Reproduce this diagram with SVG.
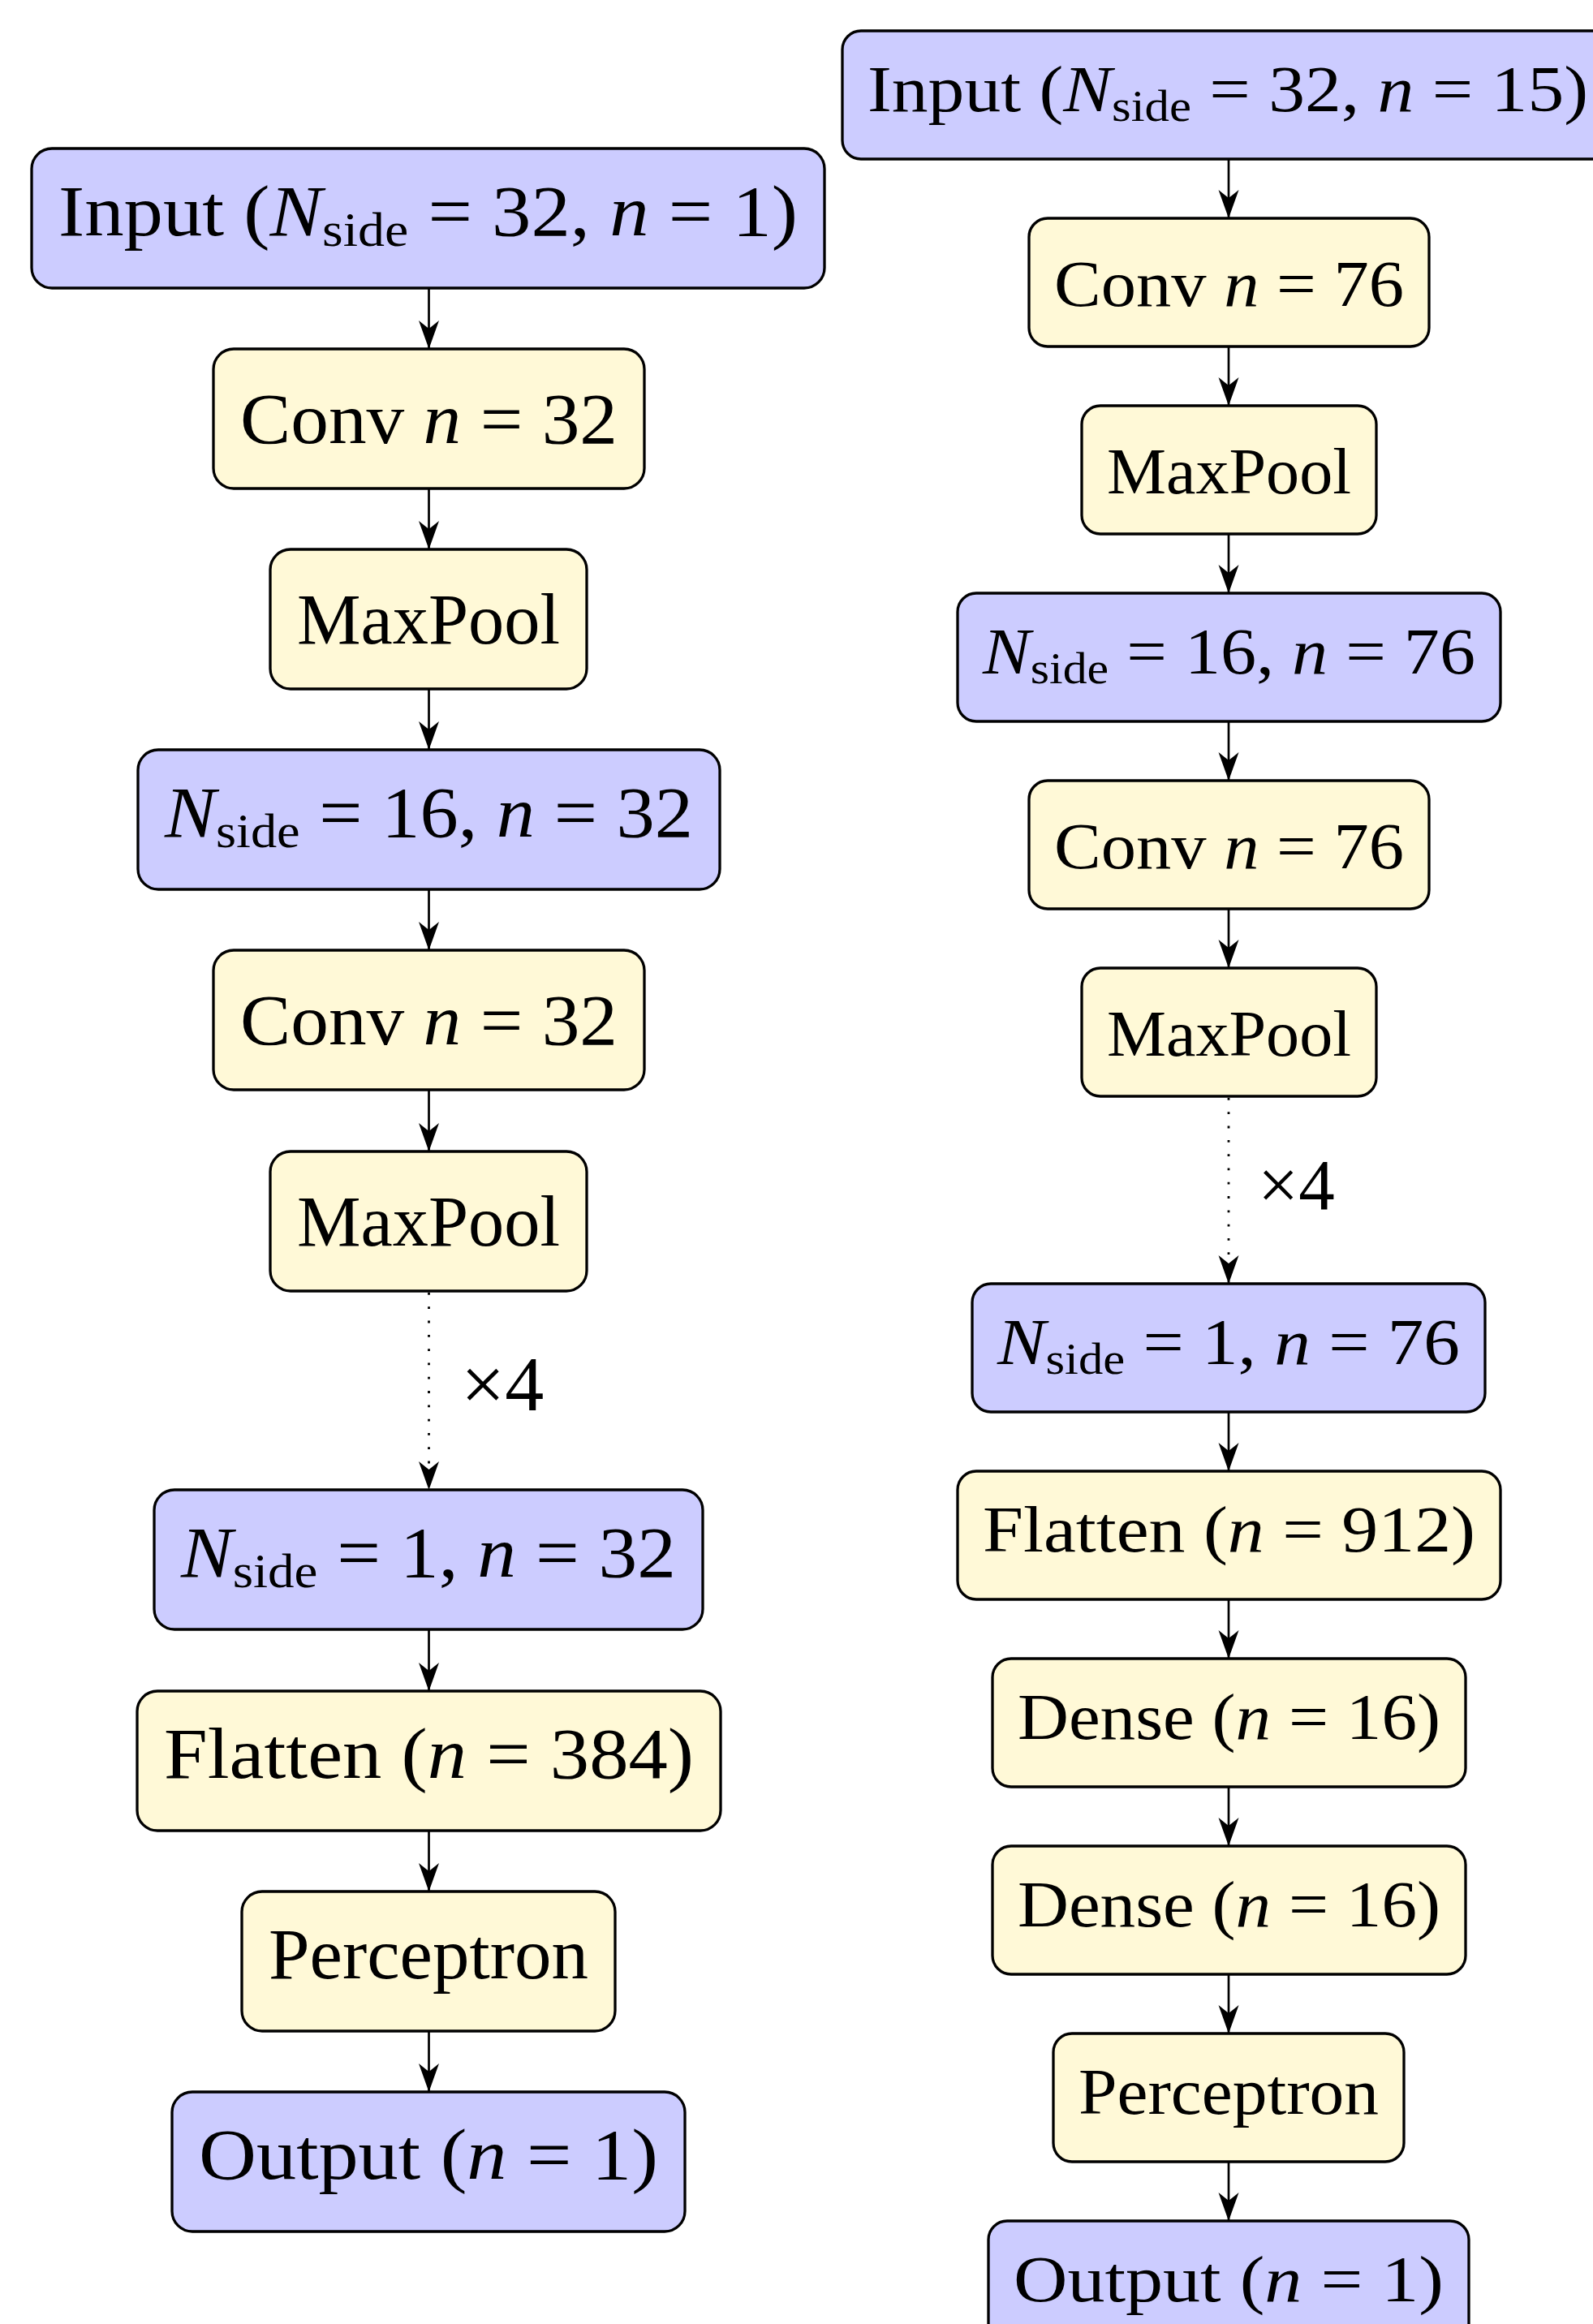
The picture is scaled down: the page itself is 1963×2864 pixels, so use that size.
<svg xmlns="http://www.w3.org/2000/svg" width="1963" height="2864" viewBox="0 0 1963 2864">
<style>
.b{fill:#CCCCFF;stroke:#000;stroke-width:3.3}
.y{fill:#FFF9D7;stroke:#000;stroke-width:3.3}
text{font-family:"Liberation Serif","Times New Roman",serif;fill:#000}
.L{font-size:88px}
.R{font-size:81px}
.i{font-style:italic}
.sL{font-size:60px}
.sR{font-size:55px}
.e{stroke:#000;stroke-width:2.7;fill:none}
.d{stroke:#000;stroke-width:2.8;fill:none;stroke-dasharray:2.8 14.5}
</style>
<defs>
<marker id="ah" markerUnits="userSpaceOnUse" markerWidth="40" markerHeight="30" viewBox="-30 -12 32 24" refX="0" refY="0" orient="auto">
<path d="M0,0 L-28,-10 L-20,0 L-28,10 Z" fill="#000"/>
</marker>
</defs>
<rect width="1963" height="2864" fill="#fff"/>
<g id="connectors">
<line class="e" x1="528.5" y1="355" x2="528.5" y2="430" marker-end="url(#ah)"/>
<line class="e" x1="528.5" y1="602" x2="528.5" y2="677" marker-end="url(#ah)"/>
<line class="e" x1="528.5" y1="849" x2="528.5" y2="924" marker-end="url(#ah)"/>
<line class="e" x1="528.5" y1="1096" x2="528.5" y2="1171" marker-end="url(#ah)"/>
<line class="e" x1="528.5" y1="1343" x2="528.5" y2="1419" marker-end="url(#ah)"/>
<line class="d" x1="528.5" y1="1593" x2="528.5" y2="1836" marker-end="url(#ah)"/>
<line class="e" x1="528.5" y1="2008" x2="528.5" y2="2084" marker-end="url(#ah)"/>
<line class="e" x1="528.5" y1="2256" x2="528.5" y2="2331" marker-end="url(#ah)"/>
<line class="e" x1="528.5" y1="2503" x2="528.5" y2="2578" marker-end="url(#ah)"/>
<line class="e" x1="1514" y1="196" x2="1514" y2="269" marker-end="url(#ah)"/>
<line class="e" x1="1514" y1="427" x2="1514" y2="500" marker-end="url(#ah)"/>
<line class="e" x1="1514" y1="658" x2="1514" y2="731" marker-end="url(#ah)"/>
<line class="e" x1="1514" y1="889" x2="1514" y2="962" marker-end="url(#ah)"/>
<line class="e" x1="1514" y1="1120" x2="1514" y2="1193" marker-end="url(#ah)"/>
<line class="d" x1="1514" y1="1353" x2="1514" y2="1582" marker-end="url(#ah)"/>
<line class="e" x1="1514" y1="1740" x2="1514" y2="1813" marker-end="url(#ah)"/>
<line class="e" x1="1514" y1="1971" x2="1514" y2="2044" marker-end="url(#ah)"/>
<line class="e" x1="1514" y1="2202" x2="1514" y2="2275" marker-end="url(#ah)"/>
<line class="e" x1="1514" y1="2433" x2="1514" y2="2506" marker-end="url(#ah)"/>
<line class="e" x1="1514" y1="2664" x2="1514" y2="2737" marker-end="url(#ah)"/>
<text x="568" y="1738" font-size="96">×4</text>
<text x="1550" y="1490" font-size="89">×4</text>
</g>
<g id="L0"><rect class="b" x="39" y="183" width="977" height="172" rx="25"/>
<text class="L" x="72" y="290" textLength="911" lengthAdjust="spacingAndGlyphs">Input (<tspan class="i">N</tspan><tspan class="sL" dy="13">side</tspan><tspan dy="-13"> = 32, </tspan><tspan class="i">n</tspan> = 1)</text></g>
<g id="L1"><rect class="y" x="263" y="430" width="531" height="172" rx="25"/>
<text class="L" x="296" y="546" textLength="465" lengthAdjust="spacingAndGlyphs">Conv <tspan class="i">n</tspan> = 32</text></g>
<g id="L2"><rect class="y" x="333" y="677" width="390" height="172" rx="25"/>
<text class="L" x="366" y="793" textLength="324" lengthAdjust="spacingAndGlyphs">MaxPool</text></g>
<g id="L3"><rect class="b" x="170" y="924" width="717" height="172" rx="25"/>
<text class="L" x="203" y="1031" textLength="651" lengthAdjust="spacingAndGlyphs"><tspan class="i">N</tspan><tspan class="sL" dy="13">side</tspan><tspan dy="-13"> = 16, </tspan><tspan class="i">n</tspan> = 32</text></g>
<g id="L4"><rect class="y" x="263" y="1171" width="531" height="172" rx="25"/>
<text class="L" x="296" y="1287" textLength="465" lengthAdjust="spacingAndGlyphs">Conv <tspan class="i">n</tspan> = 32</text></g>
<g id="L5"><rect class="y" x="333" y="1419" width="390" height="172" rx="25"/>
<text class="L" x="366" y="1535" textLength="324" lengthAdjust="spacingAndGlyphs">MaxPool</text></g>
<g id="L6"><rect class="b" x="190" y="1836" width="676" height="172" rx="25"/>
<text class="L" x="223" y="1943" textLength="610" lengthAdjust="spacingAndGlyphs"><tspan class="i">N</tspan><tspan class="sL" dy="13">side</tspan><tspan dy="-13"> = 1, </tspan><tspan class="i">n</tspan> = 32</text></g>
<g id="L7"><rect class="y" x="169" y="2084" width="719" height="172" rx="25"/>
<text class="L" x="202" y="2191" textLength="653" lengthAdjust="spacingAndGlyphs">Flatten (<tspan class="i">n</tspan> = 384)</text></g>
<g id="L8"><rect class="y" x="298" y="2331" width="460" height="172" rx="25"/>
<text class="L" x="331" y="2438" textLength="394" lengthAdjust="spacingAndGlyphs">Perceptron</text></g>
<g id="L9"><rect class="b" x="212" y="2578" width="632" height="172" rx="25"/>
<text class="L" x="245" y="2685" textLength="566" lengthAdjust="spacingAndGlyphs">Output (<tspan class="i">n</tspan> = 1)</text></g>
<g id="R0"><rect class="b" x="1038" y="38" width="952" height="158" rx="23"/>
<text class="R" x="1069" y="137" textLength="888" lengthAdjust="spacingAndGlyphs">Input (<tspan class="i">N</tspan><tspan class="sR" dy="12">side</tspan><tspan dy="-12"> = 32, </tspan><tspan class="i">n</tspan> = 15)</text></g>
<g id="R1"><rect class="y" x="1268" y="269" width="493" height="158" rx="23"/>
<text class="R" x="1299" y="377" textLength="431" lengthAdjust="spacingAndGlyphs">Conv <tspan class="i">n</tspan> = 76</text></g>
<g id="R2"><rect class="y" x="1333" y="500" width="363" height="158" rx="23"/>
<text class="R" x="1364" y="608" textLength="301" lengthAdjust="spacingAndGlyphs">MaxPool</text></g>
<g id="R3"><rect class="b" x="1180" y="731" width="669" height="158" rx="23"/>
<text class="R" x="1211" y="830" textLength="607" lengthAdjust="spacingAndGlyphs"><tspan class="i">N</tspan><tspan class="sR" dy="12">side</tspan><tspan dy="-12"> = 16, </tspan><tspan class="i">n</tspan> = 76</text></g>
<g id="R4"><rect class="y" x="1268" y="962" width="493" height="158" rx="23"/>
<text class="R" x="1299" y="1070" textLength="431" lengthAdjust="spacingAndGlyphs">Conv <tspan class="i">n</tspan> = 76</text></g>
<g id="R5"><rect class="y" x="1333" y="1193" width="363" height="158" rx="23"/>
<text class="R" x="1364" y="1301" textLength="301" lengthAdjust="spacingAndGlyphs">MaxPool</text></g>
<g id="R6"><rect class="b" x="1198" y="1582" width="632" height="158" rx="23"/>
<text class="R" x="1229" y="1681" textLength="570" lengthAdjust="spacingAndGlyphs"><tspan class="i">N</tspan><tspan class="sR" dy="12">side</tspan><tspan dy="-12"> = 1, </tspan><tspan class="i">n</tspan> = 76</text></g>
<g id="R7"><rect class="y" x="1180" y="1813" width="669" height="158" rx="23"/>
<text class="R" x="1211" y="1912" textLength="607" lengthAdjust="spacingAndGlyphs">Flatten (<tspan class="i">n</tspan> = 912)</text></g>
<g id="R8"><rect class="y" x="1223" y="2044" width="583" height="158" rx="23"/>
<text class="R" x="1254" y="2143" textLength="521" lengthAdjust="spacingAndGlyphs">Dense (<tspan class="i">n</tspan> = 16)</text></g>
<g id="R9"><rect class="y" x="1223" y="2275" width="583" height="158" rx="23"/>
<text class="R" x="1254" y="2374" textLength="521" lengthAdjust="spacingAndGlyphs">Dense (<tspan class="i">n</tspan> = 16)</text></g>
<g id="R10"><rect class="y" x="1298" y="2506" width="432" height="158" rx="23"/>
<text class="R" x="1329" y="2605" textLength="370" lengthAdjust="spacingAndGlyphs">Perceptron</text></g>
<g id="R11"><rect class="b" x="1218" y="2737" width="592" height="158" rx="23"/>
<text class="R" x="1249" y="2836" textLength="530" lengthAdjust="spacingAndGlyphs">Output (<tspan class="i">n</tspan> = 1)</text></g>
</svg>
